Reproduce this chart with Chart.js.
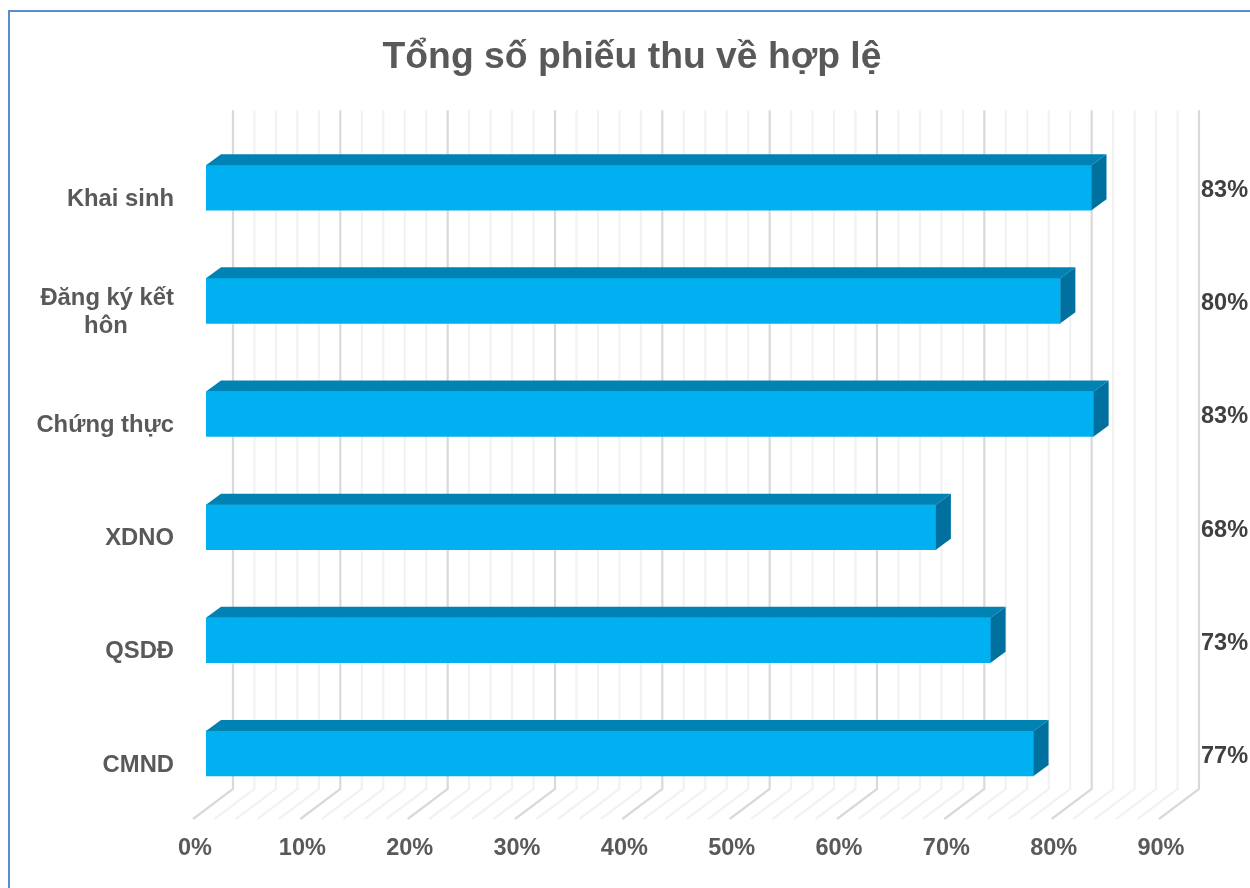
<!DOCTYPE html>
<html>
<head>
<meta charset="utf-8">
<style>
  html, body { margin: 0; padding: 0; background: #ffffff; }
  canvas { display: block; }
</style>
<script src="https://cdn.jsdelivr.net/npm/chart.js@4"></script>
</head>
<body>
<canvas id="chartPhieu" width="1250" height="888"></canvas>
<script>
const titleText = 'Tổng số phiếu thu về hợp lệ';
const categories = ['Khai sinh', ['Đăng ký kết', 'hôn\u00a0\u00a0\u00a0\u00a0\u00a0\u00a0\u00a0'], 'Chứng thực', 'XDNO', 'QSDĐ', 'CMND'];
const seriesValues = [82.5, 79.6, 82.7, 68.0, 73.1, 77.1];
const valueLabels = ['83%', '80%', '83%', '68%', '73%', '77%'];
const axisMax = 90;
const axisStep = 2;

const FONT = '"Liberation Sans", Arial, sans-serif';

// fake 3D: back wall and floor sit behind the plane the bars are drawn on
const wall = {
    id: 'wall',
    beforeDatasetsDraw(chart) {
        const x = chart.scales.x, area = chart.chartArea, ctx = chart.ctx;
        ctx.save();
        ctx.lineWidth = 2.2;
        x.ticks.forEach((tick) => {
            const px = x.getPixelForValue(tick.value) + 27;
            ctx.strokeStyle = tick.value % 10 === 0 ? '#d9d9d9' : '#f2f2f2';
            ctx.beginPath();
            ctx.moveTo(px, area.top - 21);
            ctx.lineTo(px, area.bottom - 21);
            ctx.lineTo(px - 40, area.bottom + 9);
            ctx.stroke();
        });
        ctx.restore();
    },
    // top and side faces of each bar
    afterDatasetsDraw(chart) {
        const ctx = chart.ctx, meta = chart.getDatasetMeta(0);
        ctx.save();
        meta.data.forEach((bar) => {
            const top = bar.y - bar.height / 2, bottom = bar.y + bar.height / 2;
            ctx.fillStyle = '#0083b3';
            ctx.beginPath();
            ctx.moveTo(bar.base, top);
            ctx.lineTo(bar.base + 15, top - 11);
            ctx.lineTo(bar.x + 15, top - 11);
            ctx.lineTo(bar.x, top);
            ctx.fill();
            ctx.fillStyle = '#00709f';
            ctx.beginPath();
            ctx.moveTo(bar.x, top);
            ctx.lineTo(bar.x + 15, top - 11);
            ctx.lineTo(bar.x + 15, bottom - 11);
            ctx.lineTo(bar.x, bottom);
            ctx.fill();
        });
        ctx.restore();
    },
    // frame only shows on the left and top in the picture
    beforeDraw(chart) {
        const ctx = chart.ctx;
        ctx.save();
        ctx.strokeStyle = '#5b8cd0';
        ctx.lineWidth = 2;
        ctx.beginPath();
        ctx.moveTo(9, 888);
        ctx.lineTo(9, 11);
        ctx.lineTo(1250, 11);
        ctx.stroke();
        ctx.restore();
    }
};

new Chart(document.getElementById('chartPhieu'), {
    type: 'bar',
    data: {
        labels: categories,
        datasets: [{
            data: seriesValues,
            backgroundColor: '#00b0f0',
            barThickness: 45
        }]
    },
    plugins: [wall],
    options: {
        indexAxis: 'y',
        responsive: false,
        animation: false,
        layout: { padding: { left: 14, right: 0, top: 0, bottom: 0 } },
        plugins: {
            legend: { display: false },
            tooltip: { enabled: false },
            title: {
                display: true,
                text: titleText,
                color: '#595959',
                font: { family: FONT, size: 37.3, weight: 'bold' },
                padding: { top: 35, bottom: 51.4 }
            }
        },
        scales: {
            x: {
                type: 'linear',
                min: 0,
                max: axisMax,
                grid: { display: false },
                border: { display: false },
                afterFit(scale) { scale.height = 78; },
                ticks: {
                    stepSize: axisStep,
                    autoSkip: false,
                    maxRotation: 0,
                    labelOffset: -11,
                    padding: 16,
                    color: '#595959',
                    font: { family: FONT, size: 23.5, weight: 'bold' },
                    callback: (v) => (v % 10 === 0 ? v + '%' : '')
                }
            },
            y: {
                grid: { display: false },
                border: { display: false },
                afterFit(scale) { scale.width = 192; },
                ticks: {
                    autoSkip: false,
                    labelOffset: 11.5,
                    padding: 24,
                    color: '#595959',
                    font: { family: FONT, size: 23.8, weight: 'bold' }
                }
            },
            // value labels sit in a column right of the plot
            yValues: {
                type: 'category',
                position: 'right',
                labels: valueLabels,
                offset: true,
                grid: { display: false },
                border: { display: false },
                afterFit(scale) { scale.width = 78; },
                ticks: {
                    autoSkip: false,
                    labelOffset: 3,
                    padding: 21,
                    color: '#404040',
                    font: { family: FONT, size: 23.5, weight: 'bold' }
                }
            }
        }
    }
});
</script>
</body>
</html>
